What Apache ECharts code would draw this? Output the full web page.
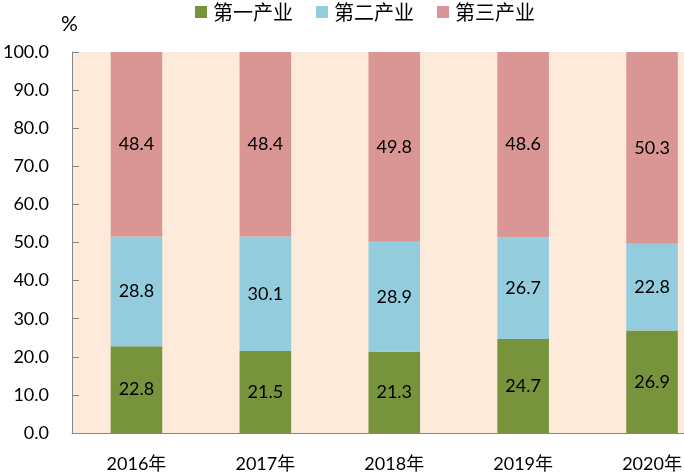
<!DOCTYPE html>
<html>
<head>
<meta charset="utf-8">
<script src="https://cdn.jsdelivr.net/npm/echarts@6/dist/echarts.min.js"></script>
<style>
html,body{margin:0;padding:0;background:#fff;}
#c{width:684px;height:474px;}
</style>
</head>
<body>
<div id="c"></div>
<script>
const categories = ['2016年', '2017年', '2018年', '2019年', '2020年'];
const primary = [22.8, 21.5, 21.3, 24.7, 26.9];
const secondary = [28.8, 30.1, 28.9, 26.7, 22.8];
const tertiary = [48.4, 48.4, 49.8, 48.6, 50.3];
const seriesNames = ['第一产业', '第二产业', '第三产业'];
const colors = ['#77933C', '#93CDDD', '#D99694'];

const FONT = 'Lato, "Noto Sans CJK SC", sans-serif';
const chart = echarts.init(document.getElementById('c'));

function bar(name, data, color) {
  return {
    name: name,
    type: 'bar',
    stack: 'total',
    data: data,
    barWidth: '40%',
    itemStyle: { color: color },
    label: {
      show: true,
      position: 'inside',
      color: '#000',
      fontSize: 18,
      fontFamily: FONT,
      formatter: p => p.value.toFixed(1)
    }
  };
}

chart.setOption({
  animation: false,
  color: colors,
  textStyle: { fontFamily: FONT },
  legend: {
    data: seriesNames,
    left: 190,
    top: -3,
    icon: 'rect',
    itemWidth: 12,
    itemHeight: 12,
    itemGap: 23,
    textStyle: { fontSize: 20, color: '#000', fontFamily: '"Noto Sans CJK SC", sans-serif', padding: [0, 0, 0, 1] }
  },
  graphic: [{
    type: 'text',
    left: 61,
    top: 14,
    style: { text: '%', fontSize: 21, fill: '#000', fontFamily: FONT }
  }],
  grid: {
    left: 72,
    right: -32.5,
    top: 52,
    bottom: 41,
    show: true,
    backgroundColor: '#FDEADA',
    borderWidth: 0,
    outerBoundsMode: 'none'
  },
  xAxis: {
    type: 'category',
    data: categories,
    axisLine: { lineStyle: { color: '#868686', width: 1 } },
    axisTick: { inside: true, length: 7, lineStyle: { color: '#868686' } },
    axisLabel: { color: '#000', fontSize: 18, margin: 22, fontFamily: FONT }
  },
  yAxis: {
    type: 'value',
    min: 0,
    max: 100,
    interval: 10,
    axisLine: { show: true, lineStyle: { color: '#868686', width: 1 } },
    axisTick: { show: true, inside: true, length: 7, lineStyle: { color: '#868686' } },
    splitLine: { show: false },
    axisLabel: { color: '#000', fontSize: 18, margin: 23, fontFamily: FONT, formatter: v => v.toFixed(1) }
  },
  series: [
    bar(seriesNames[0], primary, colors[0]),
    bar(seriesNames[1], secondary, colors[1]),
    bar(seriesNames[2], tertiary, colors[2])
  ]
});
</script>
</body>
</html>
